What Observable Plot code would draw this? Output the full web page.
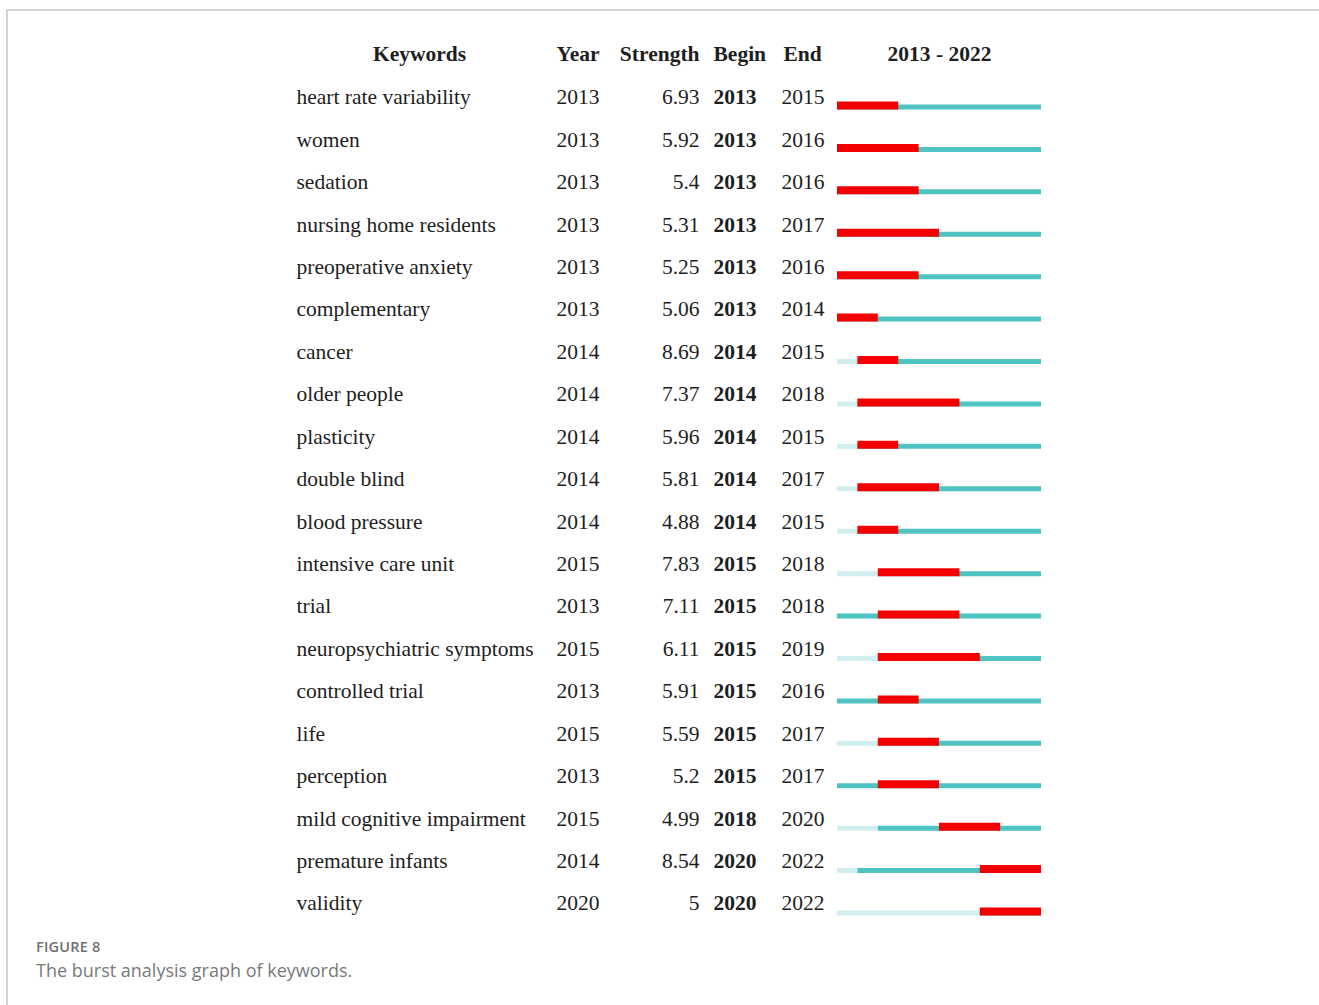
<!DOCTYPE html>
<html>
<head>
<meta charset="utf-8">
<script src="https://cdn.jsdelivr.net/npm/d3@7"></script>
<script src="https://cdn.jsdelivr.net/npm/@observablehq/plot@0.6"></script>
<style>
  html, body { margin: 0; padding: 0; background: #fff; overflow: hidden; }
  #page { position: relative; width: 1319px; height: 1005px; }
  #frame { position: absolute; left: 6px; top: 9px; right: 0; bottom: 0;
           border-left: 2px solid #d2d2d2; border-top: 2px solid #d2d2d2; }
  #chart { position: absolute; left: 0; top: 0; }
  #fig { position: absolute; left: 36px; top: 937px; font-family: "Open Sans", sans-serif;
         font-size: 14.5px; font-weight: 600; color: #707070; letter-spacing: 0.2px; }
  #cap { position: absolute; left: 36px; top: 958px; font-family: "Open Sans", sans-serif;
         font-size: 18px; color: #7a7a7a; }
</style>
</head>
<body>
<div id="page">
  <div id="frame"></div>
  <div id="chart"></div>
  <div id="fig">FIGURE 8</div>
  <div id="cap">The burst analysis graph of keywords.</div>
</div>
<script>
// Keyword bursts, 2013–2022
const keywords = [
  "heart rate variability", "women", "sedation", "nursing home residents",
  "preoperative anxiety", "complementary", "cancer", "older people",
  "plasticity", "double blind", "blood pressure", "intensive care unit",
  "trial", "neuropsychiatric symptoms", "controlled trial", "life",
  "perception", "mild cognitive impairment", "premature infants", "validity"
];
const firstYear = [2013, 2013, 2013, 2013, 2013, 2013, 2014, 2014, 2014, 2014,
                   2014, 2015, 2013, 2015, 2013, 2015, 2013, 2015, 2014, 2020];
const strength  = [6.93, 5.92, 5.4, 5.31, 5.25, 5.06, 8.69, 7.37, 5.96, 5.81,
                   4.88, 7.83, 7.11, 6.11, 5.91, 5.59, 5.2, 4.99, 8.54, 5];
const burstBegin = [2013, 2013, 2013, 2013, 2013, 2013, 2014, 2014, 2014, 2014,
                    2014, 2015, 2015, 2015, 2015, 2015, 2015, 2018, 2020, 2020];
const burstEnd   = [2015, 2016, 2016, 2017, 2016, 2014, 2015, 2018, 2015, 2017,
                    2015, 2018, 2018, 2019, 2016, 2017, 2017, 2020, 2022, 2022];
const headers = ["Keywords", "Year", "Strength", "Begin", "End"];
const startYear = 2013;
const endYear = 2022;

const rows = keywords.map((k, i) => ({
  keyword: k, year: firstYear[i], strength: strength[i],
  begin: burstBegin[i], end: burstEnd[i]
}));

const serif = "'Liberation Serif', 'Times New Roman', serif";
const FS = 21.5;
const ink = "#1e1e1e";

const col = (field, dx, anchor, weight = "normal") =>
  Plot.text(rows, {
    y: "keyword", text: d => String(d[field]), frameAnchor: "left", dx,
    textAnchor: anchor, lineAnchor: "middle", fontWeight: weight, fontSize: FS, fill: ink
  });

const head = (label, dx, anchor) =>
  Plot.text([label], {
    frameAnchor: "top-left", dx, dy: 54, text: d => d, lineAnchor: "middle",
    textAnchor: anchor, fontWeight: "bold", fontSize: FS, fill: ink
  });

const chart = Plot.plot({
  width: 1319,
  height: 930,
  margin: 0,
  style: { fontFamily: serif, fontSize: FS + "px", background: "transparent", color: ink },
  x: { domain: [startYear, endYear + 1], range: [837, 1041], axis: null },
  y: { type: "point", domain: keywords, range: [97, 903], padding: 0, round: false, axis: null },
  marks: [
    // column headers
    head(headers[0], 419, "middle"),
    head(headers[1], 556, "start"),
    head(headers[2], 699, "end"),
    head(headers[3], 713, "start"),
    head(headers[4], 783, "start"),
    Plot.text([`${startYear} - ${endYear}`], {
      x: [(startYear + endYear + 1) / 2], frameAnchor: "top", dy: 54, text: d => d,
      lineAnchor: "middle", textAnchor: "middle", fontWeight: "bold", fontSize: FS, fill: ink
    }),
    // table columns
    col("keyword", 296, "start"),
    col("year", 556, "start"),
    col("strength", 699, "end"),
    col("begin", 713, "start", "bold"),
    col("end", 781, "start"),
    // timeline: before first appearance
    Plot.ruleY(rows.filter(d => d.year > startYear), {
      y: "keyword", x1: () => startYear, x2: "year",
      stroke: "#d2efef", strokeWidth: 5, dy: 9.5
    }),
    // timeline: after first appearance
    Plot.ruleY(rows, {
      y: "keyword", x1: "year", x2: () => endYear + 1,
      stroke: "#4fc2c2", strokeWidth: 5, dy: 9.5
    }),
    // burst period
    Plot.ruleY(rows, {
      y: "keyword", x1: "begin", x2: d => d.end + 1,
      stroke: "#f50000", strokeWidth: 8, dy: 8
    })
  ]
});
document.getElementById("chart").appendChild(chart);
</script>
</body>
</html>
